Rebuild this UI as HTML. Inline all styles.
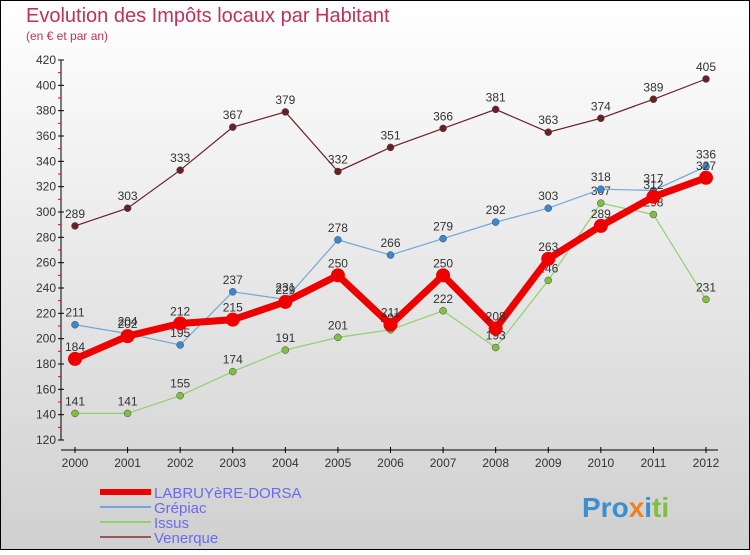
<!DOCTYPE html>
<html><head><meta charset="utf-8"><style>
body{margin:0}
#c{width:750px;height:550px;position:relative;font-family:"Liberation Sans",sans-serif}
</style></head><body>
<div id="c">
<svg id="s" width="750" height="550" xmlns="http://www.w3.org/2000/svg">
<defs><linearGradient id="bg" x1="0" y1="0" x2="0" y2="1"><stop offset="0" stop-color="#ffffff"/><stop offset="1" stop-color="#d0d0d0"/></linearGradient></defs>
<rect x="0.5" y="0.5" width="749" height="549" fill="url(#bg)" stroke="#000"/>
<text x="26" y="22" font-size="20" fill="#c0305a">Evolution des Impôts locaux par Habitant</text>
<text x="26" y="40" font-size="12" fill="#c0305a">(en € et par an)</text>
<g id="axes"></g><g id="plot"></g><g id="legend"></g>
<text x="582" y="517" font-size="28" font-weight="bold" fill="#3a8fd0">Pro<tspan fill="#f08020">x</tspan><tspan fill="#3a8fd0">i</tspan><tspan fill="#80c040">ti</tspan></text>
</svg></div>
<script>
const years=[2000,2001,2002,2003,2004,2005,2006,2007,2008,2009,2010,2011,2012];
const labruyere=[184,202,212,215,229,250,211,250,208,263,289,312,327];
const grepiac=[211,204,195,237,231,278,266,279,292,303,318,317,336];
const issus=[141,141,155,174,191,201,207,222,193,246,307,298,231];
const venerque=[289,303,333,367,379,332,351,366,381,363,374,389,405];
const yTicks=[120,140,160,180,200,220,240,260,280,300,320,340,360,380,400,420];
const NS="http://www.w3.org/2000/svg";
const x=i=>75+i*(706-75)/12;
const y=v=>440-(v-120)*380/300;
function mk(t,a,p){const e=document.createElementNS(NS,t);for(const k in a)e.setAttribute(k,a[k]);p.appendChild(e);return e;}
const ax=document.getElementById('axes');
const yl=mk('line',{x1:61,y1:60,x2:61,y2:440,stroke:'#000'},ax);


yTicks.forEach(v=>{
 mk('line',{x1:58,y1:y(v),x2:64,y2:y(v),stroke:'#000'},ax);
 if(v<420)mk('line',{x1:58,y1:y(v+10),x2:61,y2:y(v+10),stroke:'#e00'},ax);
 const t=mk('text',{x:56,y:y(v)+4,'font-size':12,fill:'#333','text-anchor':'end'},ax);t.textContent=v;
 
 
});
const xl=mk('line',{x1:61,y1:450,x2:718,y2:450,stroke:'#000'},ax);


years.forEach((yr,i)=>{
 mk('line',{x1:x(i),y1:447,x2:x(i),y2:453,stroke:'#000'},ax);
 const t=mk('text',{x:x(i),y:467,'font-size':12,fill:'#333','text-anchor':'middle'},ax);t.textContent=yr;
 
 
});
const pl=document.getElementById('plot');
const series=[
 {name:'venerque',d:venerque,c:'#6b2025',w:1.2,r:3.5},
 {name:'issus',d:issus,c:'#90d070',w:1.2,r:3.5,fc:'#80c040'},
 {name:'grepiac',d:grepiac,c:'#70a8d8',w:1.2,r:3.5,fc:'#3a88d0'},
 {name:'labruyere',d:labruyere,c:'#ee0000',w:7,r:7}
];
series.forEach(s=>{
 const g=mk('g',{},pl);
 
 
 mk('polyline',{points:s.d.map((v,i)=>x(i)+','+y(v)).join(' '),fill:'none',stroke:s.c,'stroke-width':s.w},g);
 s.d.forEach((v,i)=>{
  const p=mk('circle',{cx:x(i),cy:y(v),r:s.r,fill:s.fc||s.c,stroke:s.name=='labruyere'?'none':'#444','stroke-width':0.5},g);
  
  
  const t=mk('text',{x:x(i),y:y(v)-8,'font-size':12,fill:'#333','text-anchor':'middle'},g);t.textContent=v;
  
  
 });
});
const lg=document.getElementById('legend');
const leg=[['LABRUYèRE-DORSA','#ee0000',6],['Grépiac','#70a8d8',2],['Issus','#90d070',2],['Venerque','#9a5a5a',2]];
leg.forEach((l,i)=>{
 const yy=492+i*15;
 const g=mk('g',{},lg);
 
 
 mk('line',{x1:100,y1:yy,x2:151,y2:yy,stroke:l[1],'stroke-width':l[2]},g);
 const t=mk('text',{x:154,y:yy+6,'font-size':15,fill:'#6a6af0'},g);t.textContent=l[0];
});
</script>
</body></html>
